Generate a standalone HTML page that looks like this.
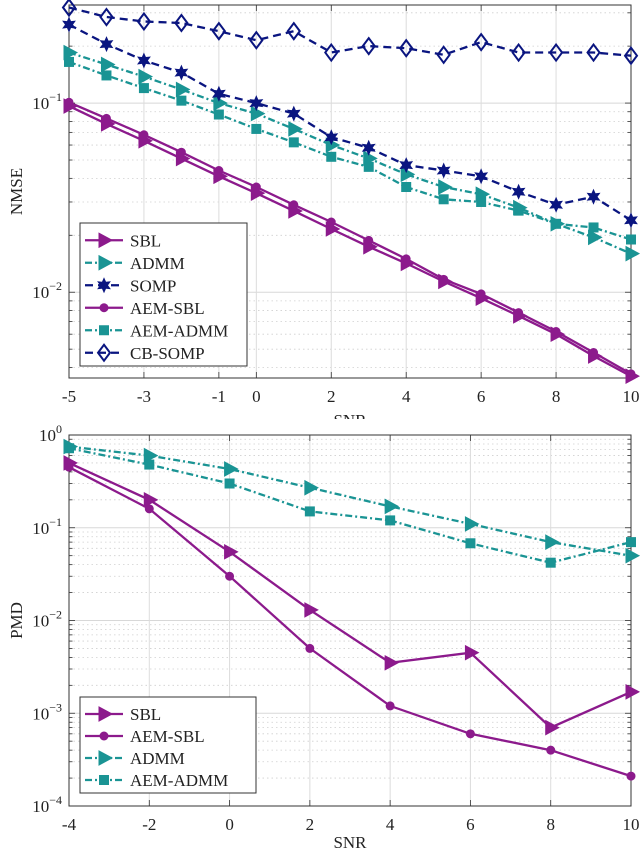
<!DOCTYPE html>
<html><head><meta charset="utf-8"><style>
html,body{margin:0;padding:0;background:#fff;}
svg{display:block;font-family:"Liberation Serif",serif;}
</style></head><body>
<svg id="fig" width="640" height="853" viewBox="0 0 640 853"></svg>
<script>
// ---------- data: top chart (NMSE) ----------
const snrTop = [-5,-4,-3,-2,-1,0,1,2,3,4,5,6,7,8,9,10];
const topXTicks = [-5,-3,-1,0,2,4,6,8,10];
const nmseSBL = [0.0964,0.0776,0.0632,0.0509,0.0410,0.0334,0.0269,0.0216,0.0174,0.0142,0.0114,0.0093,0.0075,0.0060,0.0046,0.0036];
const nmseADMM = [0.185,0.16,0.138,0.118,0.1,0.088,0.073,0.06,0.051,0.042,0.036,0.033,0.028,0.023,0.0195,0.016];
const nmseSOMP = [0.26,0.205,0.168,0.145,0.112,0.1,0.088,0.066,0.058,0.047,0.044,0.041,0.034,0.029,0.032,0.024];
const nmseAEMSBL = [0.101,0.083,0.068,0.055,0.044,0.036,0.029,0.0235,0.0188,0.015,0.0117,0.0098,0.0078,0.0062,0.0048,0.0037];
const nmseAEMADMM = [0.165,0.14,0.12,0.103,0.087,0.073,0.062,0.052,0.046,0.036,0.031,0.030,0.027,0.023,0.022,0.019];
const nmseCBSOMP = [0.32,0.285,0.27,0.265,0.24,0.215,0.24,0.185,0.2,0.195,0.18,0.21,0.185,0.185,0.185,0.178];
// ---------- data: bottom chart (PMD) ----------
const snrBot = [-4,-2,0,2,4,6,8,10];
const botXTicks = [-4,-2,0,2,4,6,8,10];
const pmdSBL = [0.5,0.2,0.055,0.013,0.0035,0.0045,0.0007,0.0017];
const pmdAEMSBL = [0.45,0.16,0.03,0.005,0.0012,0.0006,0.0004,0.00021];
const pmdADMM = [0.75,0.6,0.43,0.27,0.17,0.11,0.07,0.05];
const pmdAEMADMM = [0.72,0.48,0.3,0.15,0.12,0.068,0.042,0.07];

const NS="http://www.w3.org/2000/svg";
const svg=document.getElementById('fig');
function mk(tag,attrs,parent){const e=document.createElementNS(NS,tag);for(const k in attrs)e.setAttribute(k,attrs[k]);(parent||svg).appendChild(e);return e;}
const PURPLE="#8c1a8c",TEAL="#1a9494",NAVY="#0a1580";

function marker(g,type,x,y,color,name){
  let e;
  if(type==='tri'){e=mk('polygon',{points:`${x+8},${y} ${x-5},${y-7} ${x-5},${y+7}`,fill:color,stroke:color,'stroke-width':1},g);}
  else if(type==='circ'){e=mk('circle',{cx:x,cy:y,r:4.5,fill:color},g);}
  else if(type==='sq'){e=mk('rect',{x:x-4.5,y:y-4.5,width:9,height:9,fill:color,stroke:color,'stroke-width':1},g);}
  else if(type==='star'){const p=[];for(let i=0;i<12;i++){const a=-Math.PI/2+i*Math.PI/6;const r=i%2?4:8;p.push((x+r*Math.cos(a)).toFixed(1)+','+(y+r*Math.sin(a)).toFixed(1));}
    e=mk('polygon',{points:p.join(' '),fill:color},g);}
  else if(type==='dia'){e=mk('polygon',{points:`${x},${y-8} ${x+6},${y} ${x},${y+8} ${x-6},${y}`,fill:'none',stroke:color,'stroke-width':2},g);}
  
  
}

function chart(cfg){
  const {L,R,T,B,xmin,xmax,ymin,ymax,xticks,yExps,series,ylabel,legend,prefix}=cfg;
  const g=mk('g',{});
  
  
  const sx=v=>L+(v-xmin)/(xmax-xmin)*(R-L);
  const lmin=Math.log10(ymin),lmax=Math.log10(ymax);
  const sy=v=>B-(Math.log10(v)-lmin)/(lmax-lmin)*(B-T);
  mk('rect',{x:L,y:T,width:R-L,height:B-T,fill:'#fff'},g);
  // grid
  const grid=mk('g',{},g);
  
  
  for(let d=Math.floor(lmin);d<=Math.ceil(lmax);d++){
    for(let m=1;m<10;m++){const v=m*Math.pow(10,d);if(v<ymin*0.999||v>ymax*1.001)continue;const y=sy(v);
      mk('line',{x1:L,x2:R,y1:y,y2:y,stroke:m===1?'#d8d8d8':'#cfcfcf','stroke-width':m===1?1:0.8,'stroke-dasharray':m===1?'none':'1.5 3'},grid);
      mk('line',{x1:L,x2:L+(m===1?6:3.5),y1:y,y2:y,stroke:'#333','stroke-width':0.8},g);
      mk('line',{x1:R,x2:R-(m===1?6:3.5),y1:y,y2:y,stroke:'#333','stroke-width':0.8},g);}
  }
  xticks.forEach(t=>{const x=sx(t);
    mk('line',{x1:x,x2:x,y1:T,y2:B,stroke:'#dcdcdc','stroke-width':1},grid);
    mk('line',{x1:x,x2:x,y1:B,y2:B-6,stroke:'#333','stroke-width':0.8},g);
    mk('line',{x1:x,x2:x,y1:T,y2:T+6,stroke:'#333','stroke-width':0.8},g);
    const tx=mk('text',{x:x,y:B+24,'text-anchor':'middle','font-size':17,fill:'#222'},g);tx.textContent=String(t).replace('-','-');
    
    
  });
  yExps.forEach(e=>{const y=sy(Math.pow(10,e));
    const tx=mk('text',{x:L-7,y:y+6,'text-anchor':'end','font-size':17,fill:'#222'},g);
    
    
    tx.appendChild(document.createTextNode('10'));
    const s=mk('tspan',{dy:-8,'font-size':12},tx);s.textContent=e===0?'0':'−'+Math.abs(e);
  });
  mk('rect',{x:L,y:T,width:R-L,height:B-T,fill:'none',stroke:'#333','stroke-width':1},g);
  // series
  const clipId=prefix+'clip';
  const cp=mk('clipPath',{id:clipId},g);mk('rect',{x:L-10,y:T-10,width:R-L+20,height:B-T+20},cp);
  series.forEach(s=>{
    const sg=mk('g',{'clip-path':`url(#${clipId})`},g);
    
    
    const pts=s.xs.map((xv,i)=>sx(xv).toFixed(1)+','+sy(s.ys[i]).toFixed(1)).join(' ');
    mk('polyline',{points:pts,fill:'none',stroke:s.color,'stroke-width':2.3,'stroke-dasharray':s.dash},sg);
    s.xs.forEach((xv,i)=>marker(sg,s.m,sx(xv),sy(s.ys[i]),s.color,'point'));
  });
  // y label
  const yl=mk('text',{x:0,y:0,'font-size':17,'text-anchor':'middle',fill:'#222',transform:`translate(${cfg.ylx},${(T+B)/2}) rotate(-90)`},g);
  yl.textContent=ylabel;
  
  
  // legend
  const lg=mk('g',{},g);
  
  
  mk('rect',{x:legend.x,y:legend.y,width:legend.w,height:legend.rowH*series.length+8,fill:'#fff',stroke:'#333','stroke-width':1},lg);
  legend.order.forEach((idx,i)=>{const s=series[idx];const y=legend.y+6+legend.rowH*(i+0.5);
    const eg=mk('g',{},lg);
    
    
    mk('line',{x1:legend.x+5,x2:legend.x+43,y1:y,y2:y,stroke:s.color,'stroke-width':2.3,'stroke-dasharray':s.dash},eg);
    marker(eg,s.m,legend.x+24,y,s.color,'legend-marker');
    const t=mk('text',{x:legend.x+50,y:y+6,'font-size':17,fill:'#222'},eg);t.textContent=s.name;
  });
  return g;
}
const DASHDOT='7 3 2 3', DASH='8 5';
chart({prefix:'nmse',L:69,R:631,T:5,B:378,xmin:-5,xmax:10,ymin:0.00352,ymax:0.33,xticks:topXTicks,yExps:[-1,-2],ylabel:'NMSE',ylx:22,
 series:[
  {name:'SBL',xs:snrTop,ys:nmseSBL,color:PURPLE,dash:'none',m:'tri'},
  {name:'ADMM',xs:snrTop,ys:nmseADMM,color:TEAL,dash:DASHDOT,m:'tri'},
  {name:'SOMP',xs:snrTop,ys:nmseSOMP,color:NAVY,dash:DASH,m:'star'},
  {name:'AEM-SBL',xs:snrTop,ys:nmseAEMSBL,color:PURPLE,dash:'none',m:'circ'},
  {name:'AEM-ADMM',xs:snrTop,ys:nmseAEMADMM,color:TEAL,dash:DASHDOT,m:'sq'},
  {name:'CB-SOMP',xs:snrTop,ys:nmseCBSOMP,color:NAVY,dash:DASH,m:'dia'}],
 legend:{x:80,y:223,w:167,rowH:22.5,order:[0,1,2,3,4,5]}});
// top SNR label (clipped by lower figure)
const s1=mk('text',{x:350,y:426,'text-anchor':'middle','font-size':17,fill:'#222'});s1.textContent='SNR';


mk('rect',{x:0,y:419,width:640,height:12,fill:'#fff'});
chart({prefix:'pmd',L:69,R:631,T:435,B:806,xmin:-4,xmax:10,ymin:1e-4,ymax:1,xticks:botXTicks,yExps:[0,-1,-2,-3,-4],ylabel:'PMD',ylx:22,
 series:[
  {name:'SBL',xs:snrBot,ys:pmdSBL,color:PURPLE,dash:'none',m:'tri'},
  {name:'AEM-SBL',xs:snrBot,ys:pmdAEMSBL,color:PURPLE,dash:'none',m:'circ'},
  {name:'ADMM',xs:snrBot,ys:pmdADMM,color:TEAL,dash:DASHDOT,m:'tri'},
  {name:'AEM-ADMM',xs:snrBot,ys:pmdAEMADMM,color:TEAL,dash:DASHDOT,m:'sq'}],
 legend:{x:80,y:697,w:176,rowH:22,order:[0,1,2,3]}});
const s2=mk('text',{x:350,y:848,'text-anchor':'middle','font-size':17,fill:'#222'});s2.textContent='SNR';


</script>
</body></html>
